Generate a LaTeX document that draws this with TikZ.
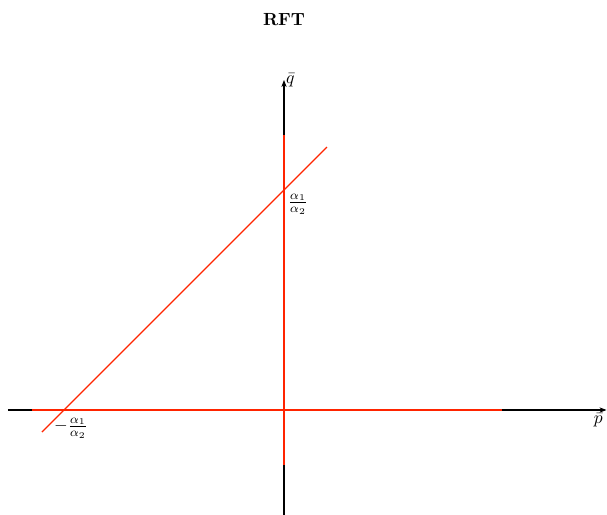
\documentclass[tikz,border=0pt]{standalone}
\usepackage{amsmath}
\usepackage{amssymb}
\usepackage{tikz}
\usetikzlibrary{arrows.meta, positioning, calc}
\definecolor{rftred}{RGB}{255,36,0}

\begin{document}
\begin{tikzpicture}[>={Stealth[length=4pt,width=3pt]}, font=\normalsize]
	\useasboundingbox (-5.68,-2.1) rectangle (6.46,8.2);
	\node[font=\normalsize\bfseries] (title) at (0,7.8) {RFT};
	
	\coordinate (o) at (0,0);
	\draw[semithick, ->] (-5.52,0) -- (6.45,0) coordinate (pend);
	\draw[semithick, ->] (0,-2.1) -- (0,6.6) coordinate (qend);
	\node[right, inner sep=1pt] (qlab) at (qend) {$\bar{q}$};
	\node[below left, inner sep=2pt] (plab) at (pend) {$\bar{p}$};
	
	\draw[rftred, thick] (-5.04,0) -- (4.36,0);
	\draw[rftred, thick] (0,-1.1) -- (0,5.5);
	\draw[rftred, thick] (-4.84,-0.44) -- (0.86,5.26);
	
	\node[below right, inner sep=2pt] (qint) at (0,4.4) {$\frac{\alpha_1}{\alpha_2}$};
	\node[anchor=north, inner sep=0pt] (pint) at (-4.26,-0.15) {$-\frac{\alpha_1}{\alpha_2}$};
\end{tikzpicture}
\end{document}
